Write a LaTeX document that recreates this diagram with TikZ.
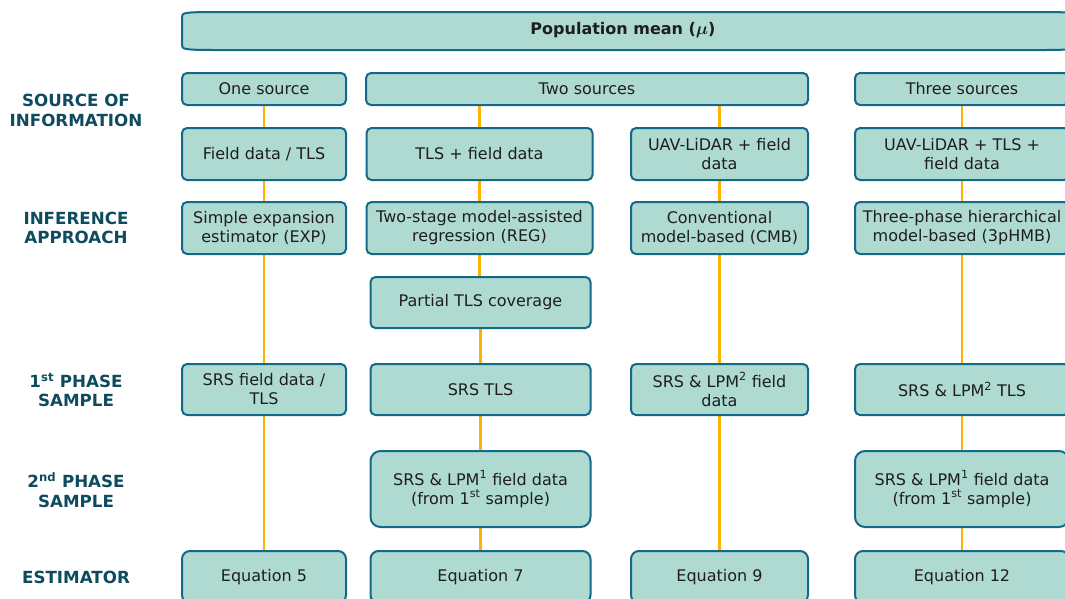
\documentclass[tikz,border=0pt]{standalone}
\usepackage{bm}
\usepackage{fontspec}
\setmainfont{DejaVu Sans}
\usetikzlibrary{backgrounds}
\definecolor{boxfill}{HTML}{AFDAD2}
\definecolor{boxline}{HTML}{12698A}
\definecolor{conn}{HTML}{FFB000}
\definecolor{lab}{HTML}{0E4B5F}
\definecolor{txt}{HTML}{1E1E1E}
\tikzset{
  box/.style={draw=boxline, line width=2pt, fill=boxfill, rounded corners=5pt,
    align=center, inner sep=0pt, text=txt, font=\fontsize{16}{19}\selectfont},
  tallbox/.style={box, rounded corners=10pt},
  eqbox/.style={box, rounded corners=8pt},
  lbl/.style={align=center, text=lab, font=\bfseries\fontsize{16.7}{19.5}\selectfont},
  link/.style={draw=conn, line width=2.5pt},
}
\begin{document}
\begin{tikzpicture}[x=1pt,y=-1pt]
\useasboundingbox (0,0) rectangle (1065,598);
\clip (0,0) rectangle (1065,598);
% top box
\draw[boxline, line width=2pt, fill=boxfill]
  (215,12) -- (1045,12) .. controls (1072,12) and (1074,13) .. (1074,18)
  -- (1074,44) .. controls (1074,49) and (1072,50) .. (1045,50)
  -- (215,50) .. controls (183,50) and (182,49) .. (182,45)
  -- (182,17) .. controls (182,13) and (183,12) .. (215,12) -- cycle;
\node[text=txt, font=\bfseries\fontsize{16}{19}\selectfont] (pop) at (623,30) {Population mean ($\bm{\mu}$)};
% labels
\node[lbl] (l1) at (76,110.5) {SOURCE OF\\INFORMATION};
\node[lbl] (l2) at (76,228) {INFERENCE\\APPROACH};
\node[lbl] (l3) at (76,390) {1\textsuperscript{st} PHASE\\SAMPLE};
\node[lbl] (l4) at (76,490) {2\textsuperscript{nd} PHASE\\SAMPLE};
\node[lbl] (l5) at (76,577) {ESTIMATOR};
% row 1
\node[box, minimum width=164pt, minimum height=32pt] (one) at (264,89) {One source};
\node[box, minimum width=442pt, minimum height=32pt] (two) at (587,89) {Two sources};
\node[box, minimum width=214pt, minimum height=32pt] (three) at (962,89) {Three sources};
% row 2
\node[box, minimum width=164pt, minimum height=52pt] (fd) at (264,154) {Field data / TLS};
\node[box, minimum width=226pt, minimum height=52pt] (tlsf) at (479.5,154) {TLS + field data};
\node[box, minimum width=177pt, minimum height=52pt] (uavf) at (719.5,154) {UAV-LiDAR + field\\data};
\node[box, minimum width=214pt, minimum height=52pt] (uavt) at (962,154) {UAV-LiDAR + TLS +\\field data};
% row 3
\node[box, minimum width=164pt, minimum height=52pt] (exp) at (264,228) {Simple expansion\\estimator (EXP)};
\node[box, minimum width=226pt, minimum height=52pt] (reg) at (479.5,228) {Two-stage model-assisted\\regression (REG)};
\node[box, minimum width=177pt, minimum height=52pt] (cmb) at (719.5,228) {Conventional\\model-based (CMB)};
\node[box, minimum width=214pt, minimum height=52pt] (hmb) at (962,228) {Three-phase hierarchical\\model-based (3pHMB)};
% partial
\node[box, minimum width=220pt, minimum height=51pt] (part) at (480.5,302.5) {Partial TLS coverage};
% 1st phase
\node[box, minimum width=164pt, minimum height=51pt] (p1a) at (264,389.5) {SRS field data /\\TLS};
\node[box, minimum width=220pt, minimum height=51pt] (p1b) at (480.5,389.5) {SRS TLS};
\node[box, minimum width=177pt, minimum height=51pt] (p1c) at (719.5,389.5) {SRS \& LPM\textsuperscript{2} field\\data};
\node[box, minimum width=214pt, minimum height=51pt] (p1d) at (962,389.5) {SRS \& LPM\textsuperscript{2} TLS};
% 2nd phase
\node[tallbox, minimum width=220pt, minimum height=76pt] (p2b) at (480.5,489) {SRS \& LPM\textsuperscript{1} field data\\(from 1\textsuperscript{st} sample)};
\node[tallbox, minimum width=214pt, minimum height=76pt] (p2d) at (962,489) {SRS \& LPM\textsuperscript{1} field data\\(from 1\textsuperscript{st} sample)};
% estimators
\node[eqbox, minimum width=164pt, minimum height=52pt] (e5) at (264,577) {Equation 5};
\node[eqbox, minimum width=220pt, minimum height=52pt] (e7) at (480.5,577) {Equation 7};
\node[eqbox, minimum width=177pt, minimum height=52pt] (e9) at (719.5,577) {Equation 9};
\node[eqbox, minimum width=214pt, minimum height=52pt] (e12) at (962,577) {Equation 12};
% connectors
\begin{scope}[on background layer]
\draw[link] (one) -- (fd);
\draw[link] (fd) -- (exp);
\draw[link] (exp) -- (p1a);
\draw[link] (p1a) -- (e5);
\draw[link] (tlsf.north |- two.south) -- (tlsf.north);
\draw[link] (tlsf) -- (reg);
\draw[link] (reg.south) -- (reg.south |- part.north);
\draw[link] (part) -- (p1b);
\draw[link] (p1b) -- (p2b);
\draw[link] (p2b) -- (e7);
\draw[link] (uavf.north |- two.south) -- (uavf.north);
\draw[link] (uavf) -- (cmb);
\draw[link] (cmb) -- (p1c);
\draw[link] (p1c) -- (e9);
\draw[link] (three) -- (uavt);
\draw[link] (uavt) -- (hmb);
\draw[link] (hmb) -- (p1d);
\draw[link] (p1d) -- (p2d);
\draw[link] (p2d) -- (e12);
\end{scope}
\end{tikzpicture}
\end{document}
